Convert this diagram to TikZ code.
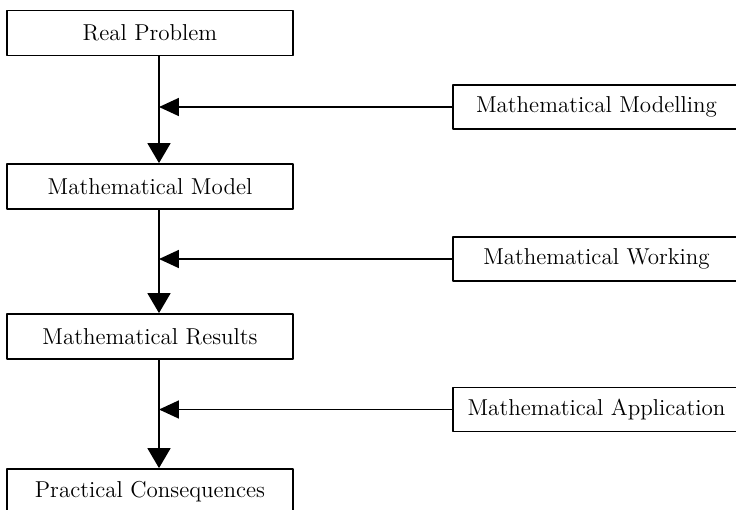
\documentclass[tikz,border=0pt]{standalone}
\usetikzlibrary{arrows.meta}
\begin{document}
\begin{tikzpicture}[line cap=round,line join=round,x=0.5pt,y=-0.5pt,
  stage/.style={draw,line width=0.9pt,minimum width=143pt,minimum height=22.5pt,inner sep=0pt,font=\fontsize{11.5}{14}\selectfont},
  action/.style={draw,line width=0.9pt,minimum width=143.5pt,minimum height=22pt,inner sep=0pt,font=\fontsize{11.5}{14}\selectfont},
  down/.style={line width=0.9pt,-{Triangle[length=10pt,width=11.5pt]}},
  side/.style={line width=0.9pt,-{Triangle[length=10pt,width=9pt]}}]
\useasboundingbox (0,0) rectangle (736,510);
\coordinate (spine) at (159,0);
% stages of the process
\node[stage] (rp) at (150,33) {Real Problem};
\node[stage] (model) at (150,186.5) {Mathematical Model};
\node[stage] (results) at (150,336.5) {Mathematical Results};
\node[stage] (practical) at (150,491.5) {Practical Consequences};
% actions between them
\node[action] (modelling) at (596.5,107) {Mathematical Modelling};
\node[action] (working) at (596.5,259) {Mathematical Working};
\node[action] (application) at (596.5,409.5) {Mathematical Application};
\draw[down] (rp.south -| spine) -- (model.north -| spine);
\draw[down] (model.south -| spine) -- (results.north -| spine);
\draw[down] (results.south -| spine) -- (practical.north -| spine);
\draw[side] (modelling.west) -- (modelling.west -| spine);
\draw[side] (working.west) -- (working.west -| spine);
\draw[side] (application.west) -- (application.west -| spine);
\end{tikzpicture}
\end{document}
